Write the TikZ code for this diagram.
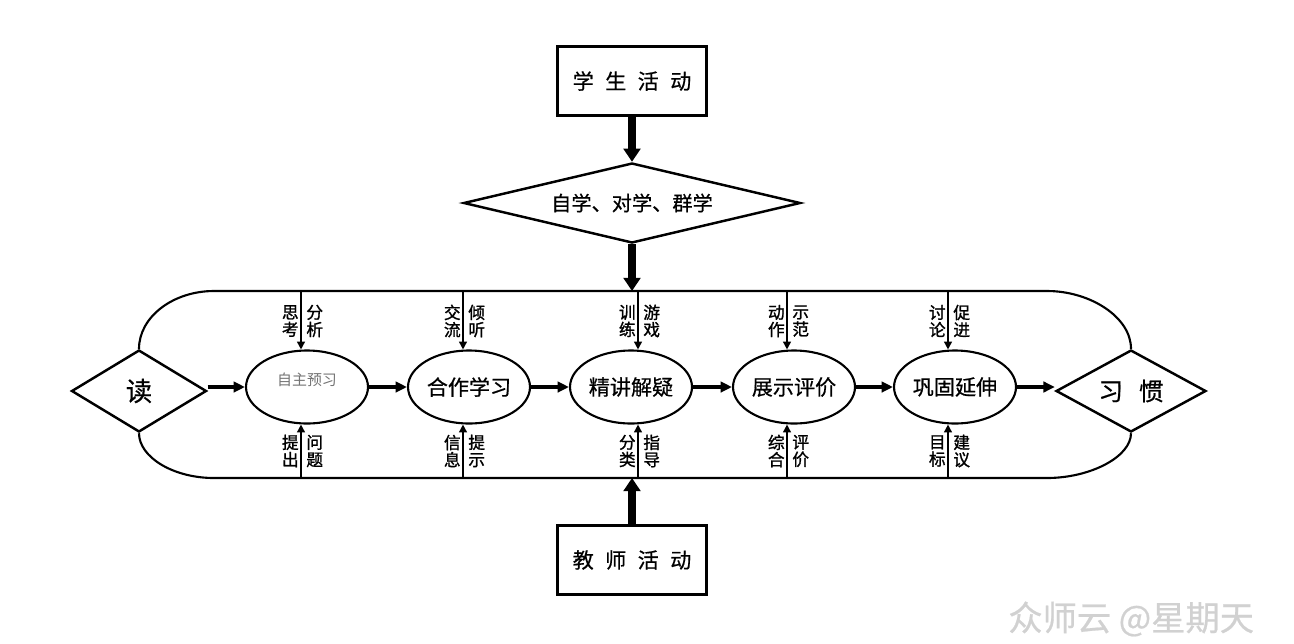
\documentclass[tikz,border=0pt]{standalone}
\usepackage{fontspec}
\setmainfont{Liberation Sans}
\newfontfamily\cjk{Noto Sans CJK SC}
\newfontfamily\cjkmid[FakeBold=0.6]{Noto Sans CJK SC}
\newfontfamily\cjkbold[FakeBold=1.3]{Noto Sans CJK SC}
\usetikzlibrary{shapes.geometric,arrows.meta}

\tikzset{
  actbox/.style={draw, line width=1.4pt, minimum width=2.98cm, minimum height=1.38cm, inner sep=0pt, font=\cjkmid\fontsize{12}{14}\selectfont},
  stage/.style={draw, ellipse, line width=1.2pt, minimum width=2.44cm, minimum height=1.46cm, inner sep=0pt, font=\cjkmid\fontsize{12}{14}\selectfont},
  gate/.style={draw, diamond, line width=1.4pt, inner sep=0pt, aspect=1.7, font=\cjkmid\fontsize{15}{17}\selectfont},
  tag/.style={inner sep=0pt, align=center, font=\cjkbold\fontsize{9.5}{9.8}\selectfont},
  bigarrow/.style={line width=4.5pt, -{Triangle[length=7.5pt,width=9.5pt]}},
  flow/.style={line width=2pt, -{Triangle[length=6.5pt,width=6pt]}},
  feed/.style={line width=0.9pt, -{Triangle[length=4.5pt,width=4.5pt]}},
  track/.style={line width=1.2pt}
}

\begin{document}
\begin{tikzpicture}[x=0.02cm, y=-0.02cm]
% canvas, in pixels of the original
\useasboundingbox (0,0) rectangle (1294,643);

% student side
\node[actbox] (stud) at (632,81) {学\hspace{6.5pt}生\hspace{6.5pt}活\hspace{6.5pt}动};
\node[gate, aspect=4.2, minimum width=6.74cm, minimum height=1.6cm, font=\cjkmid\fontsize{11.5}{13}\selectfont] (ways) at (632,203) {自学、对学、群学};

% teacher side
\node[actbox] (teach) at (632,560) {教\hspace{6.5pt}师\hspace{6.5pt}活\hspace{6.5pt}动};

% start and end
\node[gate, minimum width=2.7cm, minimum height=1.64cm] (read) at (139,391) {读};
\node[gate, minimum width=3cm, minimum height=1.64cm, font=\cjkmid\fontsize{14}{16}\selectfont] (habit) at (1131,391) {习\hspace{9pt}惯};

% the five stages
\node[stage] (s1) at (307,387) {\textcolor{black!55}{\cjk\fontsize{8.5}{10}\selectfont\raisebox{1pt}[0pt][0pt]{自主预习}}};
\node[stage] (s2) at (469,387) {合作学习};
\node[stage] (s3) at (631,387) {精讲解疑};
\node[stage] (s4) at (794,387) {展示评价};
\node[stage] (s5) at (955,387) {巩固延伸};

% main flow
\draw[flow] (read.east |- s1.west) -- (s1.west);
\draw[flow] (s1) -- (s2);
\draw[flow] (s2) -- (s3);
\draw[flow] (s3) -- (s4);
\draw[flow] (s4) -- (s5);
\draw[flow] (s5.east) -- (habit.west |- s5.east);

% outer track
\coordinate (tl) at (214,291);
\coordinate (tr) at (1047,291);
\coordinate (bl) at (214,478);
\coordinate (br) at (1047,478);
\draw[track] (read.north) .. controls (139,317) and (173,291) .. (tl) -- (tr) .. controls (1090,291) and (1131,317) .. (habit.north);
\draw[track] (read.south) .. controls (139,457) and (173,478) .. (bl) -- (br) .. controls (1090,478) and (1131,457) .. (habit.south);

% thick arrows in and out
\coordinate (up) at (632,291);
\coordinate (dn) at (632,478);
\draw[bigarrow] (stud) -- (ways);
\draw[bigarrow] (ways.south) -- (up);
\draw[bigarrow] (teach) -- (dn);

% arrows from the track
\coordinate (t1) at (301,291);
\coordinate (t2) at (463,291);
\coordinate (t3) at (638,291);
\coordinate (t4) at (787,291);
\coordinate (t5) at (948,291);
\coordinate (b1) at (301,478);
\coordinate (b2) at (463,478);
\coordinate (b3) at (638,478);
\coordinate (b4) at (787,478);
\coordinate (b5) at (948,478);
\draw[feed] (t1) -- (s1.north -| t1);
\draw[feed] (t2) -- (s2.north -| t2);
\draw[feed] (t3) -- (s3.north -| t3);
\draw[feed] (t4) -- (s4.north -| t4);
\draw[feed] (t5) -- (s5.north -| t5);
\draw[feed] (b1) -- (s1.south -| b1);
\draw[feed] (b2) -- (s2.south -| b2);
\draw[feed] (b3) -- (s3.south -| b3);
\draw[feed] (b4) -- (s4.south -| b4);
\draw[feed] (b5) -- (s5.south -| b5);

% labels above
\node[tag, anchor=east] (u1a) at (299,321) {思\\考};
\node[tag, anchor=west] (u1b) at (306,321) {分\\析};
\node[tag, anchor=east] (u2a) at (461,321) {交\\流};
\node[tag, anchor=west] (u2b) at (468,321) {倾\\听};
\node[tag, anchor=east] (u3a) at (636,321) {训\\练};
\node[tag, anchor=west] (u3b) at (643,321) {游\\戏};
\node[tag, anchor=east] (u4a) at (785,321) {动\\作};
\node[tag, anchor=west] (u4b) at (792,321) {示\\范};
\node[tag, anchor=east] (u5a) at (946,321) {讨\\论};
\node[tag, anchor=west] (u5b) at (953,321) {促\\进};

% labels below
\node[tag, anchor=east] (d1a) at (299,451) {提\\出};
\node[tag, anchor=west] (d1b) at (306,451) {问\\题};
\node[tag, anchor=east] (d2a) at (461,451) {信\\息};
\node[tag, anchor=west] (d2b) at (468,451) {提\\示};
\node[tag, anchor=east] (d3a) at (636,451) {分\\类};
\node[tag, anchor=west] (d3b) at (643,451) {指\\导};
\node[tag, anchor=east] (d4a) at (785,451) {综\\合};
\node[tag, anchor=west] (d4b) at (792,451) {评\\价};
\node[tag, anchor=east] (d5a) at (946,451) {目\\标};
\node[tag, anchor=west] (d5b) at (953,451) {建\\议};

% watermark
\node[anchor=west, inner sep=0pt, text=black!18, font=\cjkmid\fontsize{19.5}{21}\selectfont] (mark) at (1008,619) {众师云 @星期天};
\end{tikzpicture}
\end{document}
